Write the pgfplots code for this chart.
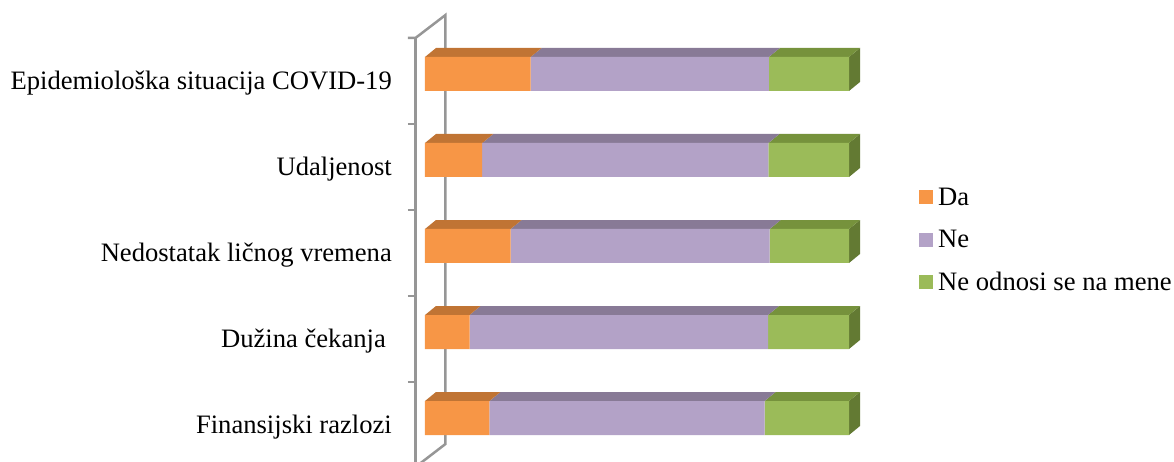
\documentclass[border=0pt]{standalone}
\usepackage{pgfplots}
\usepackage{pgfplotstable}
\pgfplotsset{compat=1.18}
\usepackage{fontspec}
\setmainfont{Liberation Serif}
\definecolor{daf}{RGB}{247,150,70}
\definecolor{dat}{RGB}{192,116,52}
\definecolor{nef}{RGB}{179,162,199}
\definecolor{net}{RGB}{136,122,150}
\definecolor{nof}{RGB}{155,187,89}
\definecolor{not}{RGB}{118,146,60}
\definecolor{nos}{RGB}{99,122,51}
\definecolor{wall}{RGB}{150,150,150}
\pgfplotsset{sqlegend/.style={legend image code/.code={\fill[##1,draw=none] (0pt,-6pt) rectangle (14pt,8pt);}}}
\pgfplotstableread{
c da ne no
0 15.2 64.9 19.9
1 10.5 70.4 19.1
2 20.2 61.1 18.7
3 13.5 67.5 19.0
4 24.9 56.2 18.9
}\data
\begin{document}
\begin{tikzpicture}
\begin{axis}[
  at={(415.5pt,0pt)}, anchor=south west,
  scale only axis, width=466.4pt, height=446.34pt,
  xmin=-2.24, xmax=107.76, ymin=-0.5, ymax=4.69,
  clip=false,
  xbar stacked, bar width=34pt,
  axis line style={draw=none},
  major tick length=0pt,
  xtick=\empty,
  ytick={0,1,2,3,4},
  yticklabels={Finansijski razlozi, Dužina čekanja\kern6pt, Nedostatak ličnog vremena, Udaljenost, Epidemiološka situacija COVID-19},
  yticklabel style={anchor=base east, inner sep=0pt, xshift=-23.5pt, yshift=-15.5pt, font=\fontsize{26.6}{32}\selectfont},
  legend style={at={(1.0796,0.6139)}, anchor=north west, draw=none, fill=none, inner sep=0pt,
    font=\fontsize{26.6}{32}\selectfont, nodes={inner sep=0pt, text height=18pt, text depth=4pt},
    column sep=5pt, row sep=20.5pt, cells={anchor=west}},
  legend cell align=left,
]
\addplot[fill=daf, draw=none, sqlegend] table[x=da, y=c]{\data};
\addplot[fill=nef, draw=none, sqlegend] table[x=ne, y=c]{\data};
\addplot[fill=nof, draw=none, sqlegend] table[x=no, y=c]{\data};
\legend{Da, Ne, Ne odnosi se na mene}
\pgfplotsforeachungrouped \i in {0,1,2,3,4}{%
  \pgfplotstablegetelem{\i}{da}\of\data \let\va\pgfplotsretval
  \pgfplotstablegetelem{\i}{ne}\of\data \let\vb\pgfplotsretval
  \pgfplotstablegetelem{\i}{no}\of\data \let\vc\pgfplotsretval
  \pgfplotstablegetelem{\i}{c}\of\data \let\vy\pgfplotsretval
  \pgfmathsetmacro\xa{\va}%
  \pgfmathsetmacro\xb{\va+\vb}%
  \pgfmathsetmacro\xc{\va+\vb+\vc}%
  \pgfmathsetmacro\yt{\vy+17/86}%
  \pgfmathsetmacro\yb{\vy-17/86}%
  \edef\temp{%
    \noexpand\fill[dat] (axis cs:0,\yt) -- (axis cs:\xa,\yt) -- ([shift={(11pt,9pt)}]axis cs:\xa,\yt) -- ([shift={(11pt,9pt)}]axis cs:0,\yt) -- cycle;
    \noexpand\fill[net] (axis cs:\xa,\yt) -- (axis cs:\xb,\yt) -- ([shift={(11pt,9pt)}]axis cs:\xb,\yt) -- ([shift={(11pt,9pt)}]axis cs:\xa,\yt) -- cycle;
    \noexpand\fill[not] (axis cs:\xb,\yt) -- (axis cs:\xc,\yt) -- ([shift={(11pt,9pt)}]axis cs:\xc,\yt) -- ([shift={(11pt,9pt)}]axis cs:\xb,\yt) -- cycle;
    \noexpand\fill[nos] (axis cs:\xc,\yb) -- (axis cs:\xc,\yt) -- ([shift={(11pt,9pt)}]axis cs:\xc,\yt) -- ([shift={(11pt,9pt)}]axis cs:\xc,\yb) -- cycle;
  }\temp
}
\draw[wall, line width=2.5pt, line join=miter]
  (axis cs:-4.01,4.419) -- (axis cs:-2.24,4.419) -- (axis cs:4.835,4.686) -- (axis cs:4.835,-0.302) -- (axis cs:-2.24,-0.57);
\draw[wall, line width=2.5pt] (axis cs:-2.24,4.419) -- (axis cs:-2.24,-0.6);
\draw[wall, line width=2.5pt] (axis cs:-4.01,3.419) -- (axis cs:-2.24,3.419);
\draw[wall, line width=2.5pt] (axis cs:-4.01,2.419) -- (axis cs:-2.24,2.419);
\draw[wall, line width=2.5pt] (axis cs:-4.01,1.419) -- (axis cs:-2.24,1.419);
\draw[wall, line width=2.5pt] (axis cs:-4.01,0.419) -- (axis cs:-2.24,0.419);
\end{axis}
\pgfresetboundingbox
\path[use as bounding box] (0,0) rectangle (1174pt,461pt);
\end{tikzpicture}
\end{document}
